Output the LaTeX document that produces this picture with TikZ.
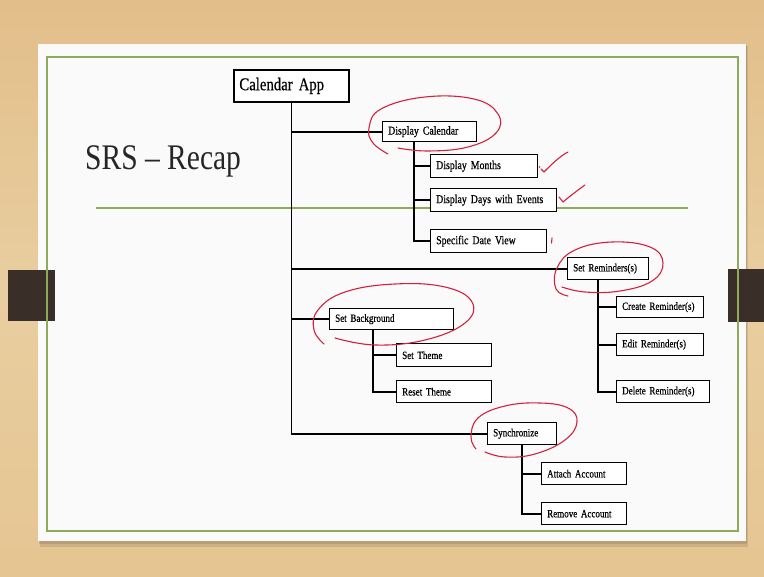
\documentclass[tikz,border=0pt]{standalone}
\usepackage{fontspec}
\setmainfont{Liberation Serif}[FakeStretch=0.82, WordSpace=0.7]
\newfontfamily\boxfont{Liberation Serif}[FakeStretch=0.82, WordSpace=0.7, FakeBold=0.6]
\newfontfamily\titlefont{Liberation Serif}[FakeStretch=0.82, Ligatures=TeX]
\usetikzlibrary{calc}
\definecolor{woodtop}{RGB}{226,190,138}
\definecolor{woodmid}{RGB}{233,206,160}
\definecolor{woodbot}{RGB}{229,197,146}
\definecolor{tabbrown}{RGB}{58,47,40}
\definecolor{slidegreen}{RGB}{143,170,90}
\definecolor{pen}{RGB}{212,32,62}
\definecolor{slidewhite}{RGB}{250,250,250}
\begin{document}
\begin{tikzpicture}[x=1pt,y=-1pt,
  box/.style n args={3}{draw, line width=1.4pt, fill=white, anchor=north west,
    inner xsep=5.5pt, inner ysep=0pt, text width=#1pt, minimum height=#2pt,
    align=left, font=\boxfont\fontsize{#3}{#3}\selectfont},
  link/.style={line width=1.8pt},
  ink/.style={pen, line width=1.1pt, line cap=round, line join=round}
]
\useasboundingbox (0,0) rectangle (764,577);
% wood background
\shade[top color=woodtop, bottom color=woodbot, middle color=woodmid] (0,0) rectangle (764,577);
% slide shadow and slide
\fill[black, opacity=0.10] (40,46) rectangle (748,547);
\fill[black, opacity=0.10] (39,45) rectangle (747,544);
\fill[slidewhite] (38,44) rectangle (746,541);
% tabs
\fill[tabbrown] (8,270) rectangle (55,321);
\fill[tabbrown] (728,269) rectangle (764,322);
% green frame and title rule
\draw[slidegreen, line width=1.5pt] (47,57) rectangle (738,531);
\node[anchor=base west, inner sep=0pt, font=\titlefont\fontsize{36}{36}\selectfont, text=black!85] (title) at (85,170) {SRS – Recap};
\draw[slidegreen, line width=2pt] (96,208) -- (688,208);

% nodes
\node[box={104}{32}{18}, line width=1.8pt] (app) at (233,69) {Calendar App};
\node[box={83}{20}{12}] (dcal) at (382,121) {Display Calendar};
\node[box={96}{23}{12}] (dm) at (430,154) {Display Months};
\node[box={115}{23}{12}] (dd) at (430,188) {Display Days with Events};
\node[box={105}{23}{12}] (sd) at (430,229) {Specific Date View};
\node[box={70}{22}{11}] (srem) at (567,257) {Set Reminders(s)};
\node[box={76}{21}{11}] (cr) at (616,296) {Create Reminder(s)};
\node[box={76}{22}{11}] (er) at (616,333) {Edit Reminder(s)};
\node[box={82}{22}{11}] (dr) at (616,380) {Delete Reminder(s)};
\node[box={113}{21}{11}] (sbg) at (329,308) {Set Background};
\node[box={84}{23}{11}] (st) at (396,343) {Set Theme};
\node[box={84}{22}{11}] (rt) at (396,380) {Reset Theme};
\node[box={58}{22}{11}] (sync) at (487,422) {Synchronize};
\node[box={74}{22}{11}] (aa) at (541,462) {Attach Account};
\node[box={74}{22}{11}] (ra) at (541,502) {Remove Account};

% connectors
\draw[link] (app.south) |- (sync.west);
\foreach \n in {dcal,srem,sbg} \draw[link] (app.south |- \n.west) -- (\n.west);
\path (dcal.south west) ++(32,0) coordinate (dcb);
\path (srem.south west) ++(31,0) coordinate (srb);
\path (sbg.south west) ++(44,0) coordinate (sbb);
\path (sync.south west) ++(35,0) coordinate (syb);
\foreach \n in {dm,dd,sd} \draw[link] (dcb) |- (\n.west);
\foreach \n in {cr,er,dr} \draw[link] (srb) |- (\n.west);
\foreach \n in {st,rt} \draw[link] (sbb) |- (\n.west);
\foreach \n in {aa,ra} \draw[link] (syb) |- (\n.west);

% red pen annotations
\draw[ink] plot[smooth, tension=0.7] coordinates {(388,154) (373,143) (369,128) (381,109) (425,97) (474,99) (498,114) (496,133) (468,147) (428,151) (398,148)};
\draw[ink] plot[smooth, tension=0.7] coordinates {(568,296) (556,289) (557,268) (575,250) (612,242) (650,247) (663,263) (652,281) (620,291) (585,292) (562,287)};
\draw[ink] plot[smooth, tension=0.7] coordinates {(324,344) (314,330) (318,310) (345,292) (395,284) (445,287) (472,302) (465,323) (425,340) (375,345) (335,338)};
\draw[ink] plot[smooth, tension=0.7] coordinates {(476,449) (471,437) (478,418) (505,406) (540,403) (568,408) (577,422) (565,440) (535,454) (505,457) (485,452)};
\fill[pen] (539.5,167) circle (0.9);
\draw[ink] (541,169) -- (544,172) .. controls (552,164) and (560,156) .. (568,152);
\draw[ink] (559,197) -- (563,202) .. controls (570,196) and (578,190) .. (585,185);
\draw[ink] (552,238) -- (551.5,243);
\end{tikzpicture}
\end{document}
